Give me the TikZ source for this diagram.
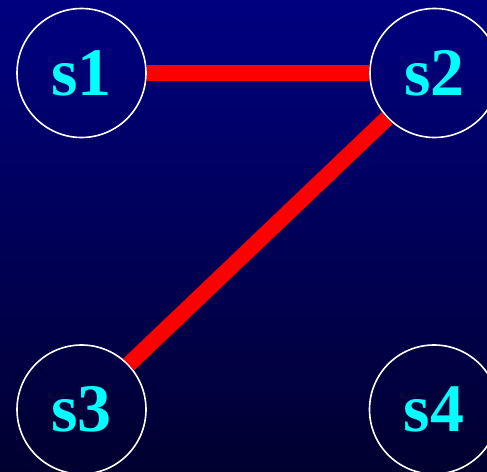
\documentclass[tikz,border=0pt]{standalone}
\usepackage{fontspec}
\setmainfont{Liberation Serif}

\definecolor{cian}{RGB}{0,255,255}
\definecolor{rojo}{RGB}{255,0,0}

\tikzset{
	estado/.style={circle, draw=white, line width=1.6pt, minimum size=129pt, inner sep=0pt,
		text=cian, font=\fontsize{68}{68}\selectfont\bfseries},
	arista/.style={draw=rojo, line width=16pt}
}

\begin{document}
\begin{tikzpicture}[x=1pt, y=1pt]
		% Fondo
		\clip (0,0) rectangle (487,471);
		\shade[top color={rgb,255:red,0;green,0;blue,128}, bottom color={rgb,255:red,0;green,0;blue,48}] (0,0) rectangle (487,471);
		
		% Estados
		\node[estado] (s1) at (81.5, 398) {s1};
		\node[estado] (s2) at (434.5, 398) {s2};
		\node[estado] (s3) at (81.5, 61.5) {s3};
		\node[estado] (s4) at (434, 61.5) {s4};
		
		% Aristas
		\draw[arista] (s1) -- (s2);
		\draw[arista] (s2) -- (s3);
	\end{tikzpicture}
\end{document}
